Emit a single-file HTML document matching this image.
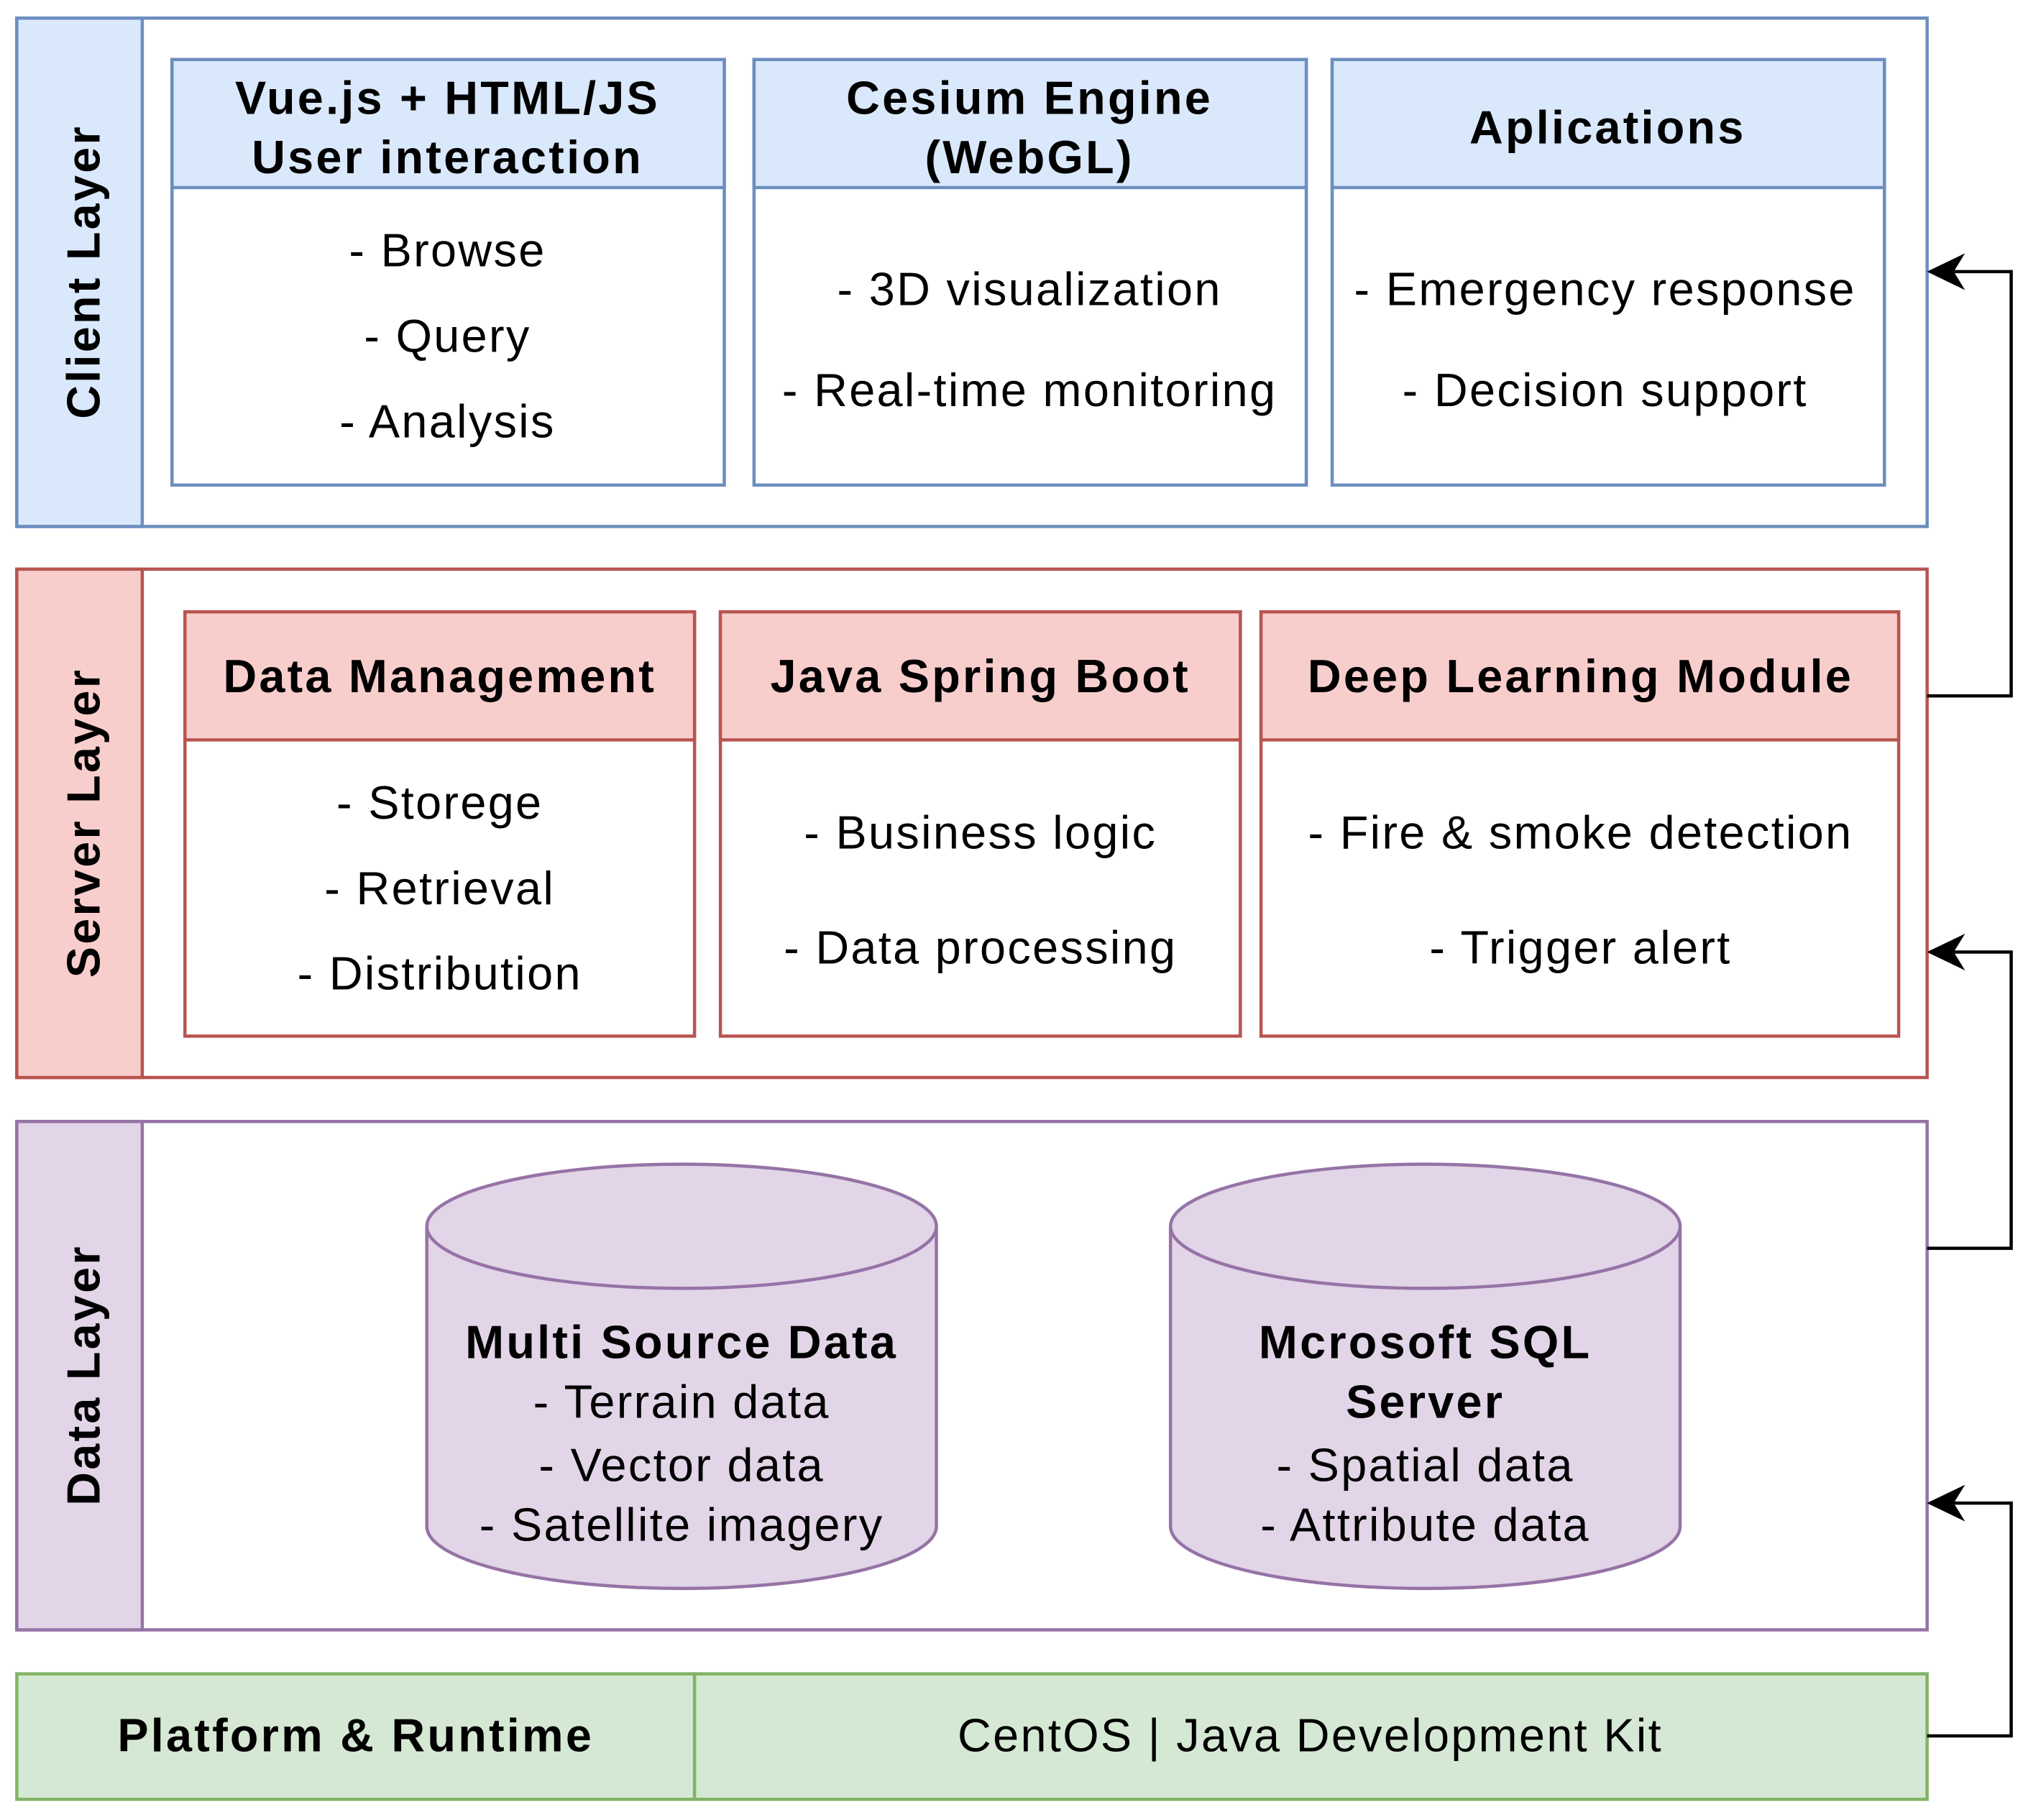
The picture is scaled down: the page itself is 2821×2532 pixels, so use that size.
<!DOCTYPE html>
<html><head><meta charset="utf-8"><style>
html,body{margin:0;padding:0;background:#fff;}
svg{display:block;}
text{font-family:"Liberation Sans",Arial,sans-serif;fill:#000;letter-spacing:1.3px;}
.b{font-weight:bold;letter-spacing:1.8px;}
</style></head><body>
<svg width="2821" height="2532" viewBox="0 0 1568 1407" preserveAspectRatio="none" xmlns="http://www.w3.org/2000/svg">
<g stroke-width="2.5">
<rect x="13" y="14" width="1477" height="393" fill="#fff" stroke="#6c8ebf"/>
<rect x="13" y="14" width="97" height="393" fill="#dae8fc" stroke="#6c8ebf"/>
<rect x="133" y="46" width="427" height="329" fill="#fff" stroke="#6c8ebf"/>
<rect x="133" y="46" width="427" height="99" fill="#dae8fc" stroke="#6c8ebf"/>
<rect x="583" y="46" width="427" height="329" fill="#fff" stroke="#6c8ebf"/>
<rect x="583" y="46" width="427" height="99" fill="#dae8fc" stroke="#6c8ebf"/>
<rect x="1030" y="46" width="427" height="329" fill="#fff" stroke="#6c8ebf"/>
<rect x="1030" y="46" width="427" height="99" fill="#dae8fc" stroke="#6c8ebf"/>
<rect x="13" y="440" width="1477" height="393" fill="#fff" stroke="#b85450"/>
<rect x="13" y="440" width="97" height="393" fill="#f8cecc" stroke="#b85450"/>
<rect x="143" y="473" width="394" height="328" fill="#fff" stroke="#b85450"/>
<rect x="143" y="473" width="394" height="99" fill="#f8cecc" stroke="#b85450"/>
<rect x="557" y="473" width="402" height="328" fill="#fff" stroke="#b85450"/>
<rect x="557" y="473" width="402" height="99" fill="#f8cecc" stroke="#b85450"/>
<rect x="975" y="473" width="493" height="328" fill="#fff" stroke="#b85450"/>
<rect x="975" y="473" width="493" height="99" fill="#f8cecc" stroke="#b85450"/>
<rect x="13" y="867" width="1477" height="393" fill="#fff" stroke="#9673a6"/>
<rect x="13" y="867" width="97" height="393" fill="#e1d5e7" stroke="#9673a6"/>
<path d="M330,948 L330,1180 A197,48 0 0 0 724,1180 L724,948" fill="#e1d5e7" stroke="#9673a6"/>
<ellipse cx="527" cy="948" rx="197" ry="48" fill="#e1d5e7" stroke="#9673a6"/>
<path d="M905,948 L905,1180 A197,48 0 0 0 1299,1180 L1299,948" fill="#e1d5e7" stroke="#9673a6"/>
<ellipse cx="1102" cy="948" rx="197" ry="48" fill="#e1d5e7" stroke="#9673a6"/>
<rect x="13" y="1294" width="1477" height="97" fill="#d5e8d4" stroke="#82b366"/>
<line x1="537" y1="1294" x2="537" y2="1391" stroke="#82b366"/>
<g fill="none" stroke="#000">
<path d="M1490,538 H1555 V210 H1494"/>
<path d="M1490,965 H1555 V736 H1494"/>
<path d="M1490,1342 H1555 V1162 H1494"/>
</g>
<g fill="#000" stroke="#000" stroke-width="1">
<path d="M1491,210 L1518,197 L1510,210 L1518,223 Z"/>
<path d="M1491,736 L1518,723 L1510,736 L1518,749 Z"/>
<path d="M1491,1162 L1518,1149 L1510,1162 L1518,1175 Z"/>
</g>
</g>
<g font-size="36" text-anchor="middle">
<text class="b" transform="translate(77,210) rotate(-90)">Client Layer</text>
<text class="b" transform="translate(77,636) rotate(-90)">Server Layer</text>
<text class="b" transform="translate(77,1063) rotate(-90)">Data Layer</text>

<text class="b" x="346" y="88">Vue.js + HTML/JS</text>
<text class="b" x="346" y="134">User interaction</text>
<text class="b" x="796" y="88">Cesium Engine</text>
<text class="b" x="796" y="134">(WebGL)</text>
<text class="b" x="1243" y="111">Aplications</text>
<text x="346" y="206">- Browse</text>
<text x="346" y="272">- Query</text>
<text x="346" y="338">- Analysis</text>
<text x="796" y="236">- 3D visualization</text>
<text x="796" y="314">- Real-time monitoring</text>
<text x="1241" y="236">- Emergency response</text>
<text x="1241" y="314">- Decision support</text>

<text class="b" x="340" y="535">Data Management</text>
<text class="b" x="758" y="535">Java Spring Boot</text>
<text class="b" x="1222" y="535">Deep Learning Module</text>
<text x="340" y="633">- Storege</text>
<text x="340" y="699">- Retrieval</text>
<text x="340" y="765">- Distribution</text>
<text x="758" y="656">- Business logic</text>
<text x="758" y="745">- Data processing</text>
<text x="1222" y="656">- Fire &amp; smoke detection</text>
<text x="1222" y="745">- Trigger alert</text>

<text class="b" x="527" y="1050">Multi Source Data</text>
<text x="527" y="1096">- Terrain data</text>
<text x="527" y="1145">- Vector data</text>
<text x="527" y="1191">- Satellite imagery</text>
<text class="b" x="1102" y="1050">Mcrosoft SQL</text>
<text class="b" x="1102" y="1096">Server</text>
<text x="1102" y="1145">- Spatial data</text>
<text x="1102" y="1191">- Attribute data</text>

<text class="b" x="275" y="1354">Platform &amp; Runtime</text>
<text x="1013" y="1354">CentOS | Java Development Kit</text>
</g>
</svg>
</body></html>
